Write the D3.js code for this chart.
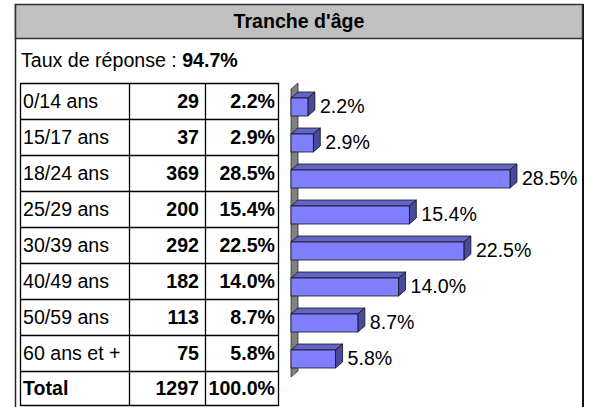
<!DOCTYPE html>
<html><head><meta charset="utf-8">
<script src="https://cdn.jsdelivr.net/npm/d3@7"></script>
<style>
html,body{margin:0;padding:0;background:#fff;}
svg{display:block;font-family:"Liberation Sans",Arial,sans-serif;}
</style></head>
<body><svg id="c" width="592" height="407"></svg>
<script>
const title = "Tranche d'âge";
const rateLabel = "Taux de réponse : ";
const rateValue = "94.7%";
const categories = ["0/14 ans","15/17 ans","18/24 ans","25/29 ans","30/39 ans","40/49 ans","50/59 ans","60 ans et +"];
const counts = [29,37,369,200,292,182,113,75];
const percents = [2.2,2.9,28.5,15.4,22.5,14.0,8.7,5.8];
const totalLabel = "Total";
const totalCount = 1297;
const totalPercent = "100.0%";

const svg = d3.select("#c");
const FS = 19.6;
const fmt = d => d.toFixed(1) + "%";

// outer frame
svg.append("line").attr("x1",15.5).attr("x2",15.5).attr("y1",4).attr("y2",407).attr("stroke","#222").attr("stroke-width",1.5);
svg.append("line").attr("x1",583).attr("x2",583).attr("y1",4).attr("y2",407).attr("stroke","#111").attr("stroke-width",2);
// header
svg.append("rect").attr("x",15.5).attr("y",4.5).attr("width",567).attr("height",34).attr("fill","#c0c0c0").attr("stroke","#333").attr("stroke-width",1.5);
svg.append("text").attr("x",299).attr("y",28).attr("text-anchor","middle").attr("font-size",FS).attr("font-weight","bold").attr("fill","#000").text(title);
const tr = svg.append("text").attr("x",21).attr("y",67).attr("font-size",FS).attr("fill","#000");
tr.append("tspan").text(rateLabel);
tr.append("tspan").attr("font-weight","bold").text(rateValue);

// table
const rowY = d3.scaleBand().domain(categories).range([83,371]);
const tableX = [20.5,129.5,205.5,278.5];
const tg = svg.append("g");
const rows = categories.map((c,i)=>({label:c,count:counts[i],pct:fmt(percents[i]),y0:rowY(c),h:rowY.bandwidth(),bold:false}));
rows.push({label:totalLabel,count:totalCount,pct:totalPercent,y0:371,h:34,bold:true});
rows.forEach(r=>{
  tg.append("line").attr("x1",tableX[0]).attr("x2",tableX[3]).attr("y1",r.y0+0.5).attr("y2",r.y0+0.5).attr("stroke","#000").attr("stroke-width",1.3);
  const by = r.y0 + r.h/2 + 7;
  tg.append("text").attr("x",23).attr("y",by).attr("font-size",FS).attr("font-weight",r.bold?"bold":"normal").text(r.label);
  tg.append("text").attr("x",199).attr("y",by).attr("text-anchor","end").attr("font-size",FS).attr("font-weight","bold").text(r.count);
  tg.append("text").attr("x",275).attr("y",by).attr("text-anchor","end").attr("font-size",FS).attr("font-weight","bold").text(r.pct);
});
tg.append("line").attr("x1",tableX[0]).attr("x2",tableX[3]).attr("y1",405.5).attr("y2",405.5).attr("stroke","#000").attr("stroke-width",1.3);
tableX.forEach(x=>tg.append("line").attr("x1",x).attr("x2",x).attr("y1",83).attr("y2",406).attr("stroke","#000").attr("stroke-width",1.3));

// bar chart
const y = d3.scaleBand().domain(categories).range([89,377]).paddingInner(0.5).paddingOuter(0.25);
const x = d3.scaleLinear().domain([0,30]).range([291,521.5]);
const dx = 7, dy = 6;
const bg = svg.append("g");
const [r0,r1] = y.range();
const x0 = x(0);
bg.append("path").attr("d",`M${x0},${r0}L${x0+dx},${r0-dy}L${x0+dx},${r1-dy}L${x0},${r1}Z`).attr("fill","#808080").attr("stroke","#333").attr("stroke-width",0.8);

const bars = bg.selectAll("g.bar").data(categories.map((c,i)=>({c,v:percents[i]}))).join("g").attr("class","bar");
bars.each(function(d){
  const g = d3.select(this);
  const yt = y(d.c), h = y.bandwidth(), xe = x(d.v);
  g.append("path").attr("d",`M${x0},${yt}L${x0+dx},${yt-dy}L${xe+dx},${yt-dy}L${xe},${yt}Z`).attr("fill","#6464c8").attr("stroke","#111").attr("stroke-width",0.8);
  g.append("path").attr("d",`M${xe},${yt}L${xe+dx},${yt-dy}L${xe+dx},${yt+h-dy}L${xe},${yt+h}Z`).attr("fill","#4a4a9c").attr("stroke","#111").attr("stroke-width",0.8);
  g.append("rect").attr("x",x0).attr("y",yt).attr("width",xe-x0).attr("height",h).attr("fill","#8080ff").attr("stroke","#111").attr("stroke-width",0.8);
  g.append("text").attr("x",xe+12).attr("y",yt+h/2+5+0.5).attr("font-size",FS).attr("fill","#000").text(fmt(d.v));
});
</script></body></html>
